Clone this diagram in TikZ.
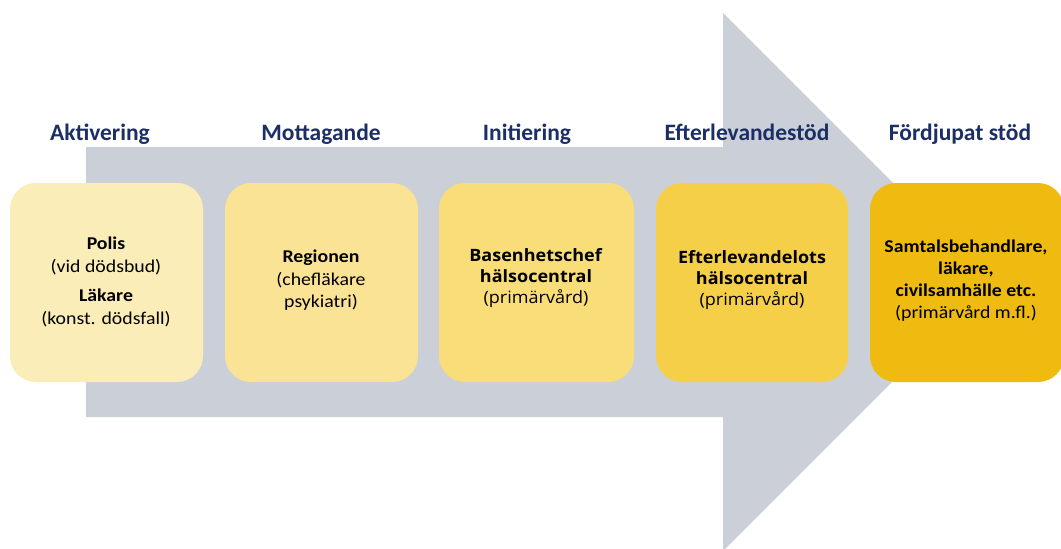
\documentclass[tikz,border=0pt]{standalone}
\usepackage{fontspec}
\setmainfont{Carlito}
\newfontfamily\wideCarlito[FakeStretch=1.1]{Carlito}
\newfontfamily\boxfontB[FakeStretch=1.06]{Open Sans}
\definecolor{arrowgray}{HTML}{CBD0D8}
\definecolor{headblue}{HTML}{1B2F66}
\definecolor{cA}{HTML}{FBEDB8}
\definecolor{cB}{HTML}{FAE394}
\definecolor{cC}{HTML}{F9DD78}
\definecolor{cD}{HTML}{F6CF48}
\definecolor{cE}{HTML}{EFBB10}
\begin{document}
\begin{tikzpicture}[x=1pt,y=-1pt,
  head/.style={font=\bfseries\fontsize{23.5}{28}\selectfont, text=headblue, anchor=base},
  stage/.style={rounded corners=26pt, draw=none},
  boxtext/.style={align=center, text=black, font=\wideCarlito\fontsize{18}{22.5}\selectfont},
  boxtextB/.style={align=center, text=black, font=\boxfontB\fontsize{17}{21}\selectfont}]
\useasboundingbox (0,0) rectangle (1061,549);
\fill[white] (0,0) rectangle (1061,549);
% big arrow
\fill[arrowgray] (86,147) -- (723,147) -- (723,13) -- (992,282) -- (723,551) -- (723,417) -- (86,417) -- cycle;
% headings
\node[head] (h1) at (100,140) {Aktivering};
\node[head] (h2) at (321,140) {Mottagande};
\node[head] (h3) at (527,140) {Initiering};
\node[head] (h4) at (747,140) {Efterlevandestöd};
\node[head] (h5) at (960,140) {Fördjupat stöd};
% boxes
\fill[stage, cA] (10,183) rectangle (203,382);
\fill[stage, cB] (225,183) rectangle (418,382);
\fill[stage, cC] (439,183) rectangle (634,382);
\fill[stage, cD] (656,183) rectangle (848,382);
\fill[stage, cE] (870,183) rectangle (1064,382);
\node[boxtext] (t1) at (106,282) {\textbf{Polis}\\(vid dödsbud)\\[7pt]\textbf{Läkare}\\(konst. dödsfall)};
\node[boxtext] (t2) at (321,280.5) {\textbf{Regionen}\\(chefläkare\\psykiatri)};
\node[boxtextB] (t3) at (536,278.5) {\textbf{Basenhetschef}\\\textbf{hälsocentral}\\(primärvård)};
\node[boxtextB] (t4) at (752,280) {\textbf{Efterlevandelots}\\\textbf{hälsocentral}\\(primärvård)};
\node[boxtext, font=\wideCarlito\fontsize{18}{21.8}\selectfont] (t5) at (966,280.5) {\textbf{Samtalsbehandlare,}\\\textbf{läkare,}\\\textbf{civilsamhälle etc.}\\(primärvård m.fl.)};
\end{tikzpicture}
\end{document}
